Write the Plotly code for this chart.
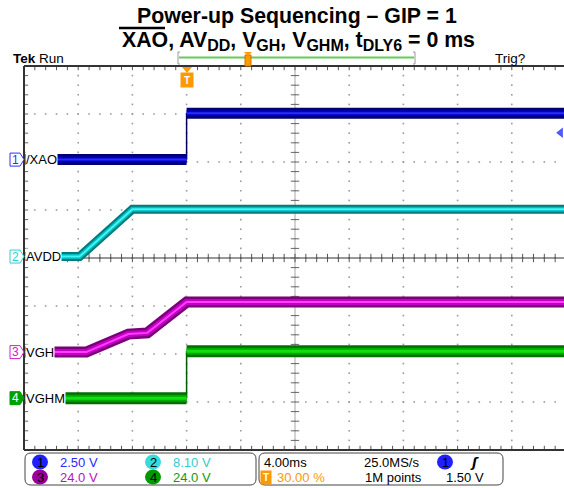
import plotly.graph_objects as go

# --- scope settings / data ---
time_per_div = 4.0          # ms/div
trigger_pct = 30.0          # % of record
sample_rate = "25.0MS/s"
record_len = "1M points"
trig_level = 1.50           # V on ch1

channel_names = ["/XAO", "AVDD", "VGH", "VGHM"]
volts_per_div = [2.50, 8.10, 24.0, 24.0]
offsets_div = [2.05, 0.03, -1.96, -2.92]

# waveforms (time in ms relative to trigger, volts)
time_xao = [-12, 0, 0, 28]
volt_xao = [0.0, 0.0, 2.42, 2.42]
time_avdd = [-12, -7.9, -4.0, 28]
volt_avdd = [0.0, 0.0, 8.0, 8.0]
time_vgh = [-12, -7.4, -4.3, -2.9, 0, 28]
volt_vgh = [0.0, 0.0, 9.0, 9.6, 25.0, 25.0]
time_vghm = [-12, 0, 0, 28]
volt_vghm = [0.0, 0.0, 23.5, 23.5]

W, H = 564, 488
LEFT, TOP, BOTTOM = 24, 66, 450
PW, PH = W - LEFT, BOTTOM - TOP
DIV_PX = 54.2
X0 = -trigger_pct / 10 * time_per_div
X1 = X0 + PW / DIV_PX * time_per_div


def px(x):
    return (x - LEFT) / PW


def py(y):
    return (BOTTOM - y) / PH


# band colours: outer, middle, core
band_styles = [
    [("#00006e", 11), ("#0000c0", 6), ("#2b2bff", 2)],
    [("#007a7a", 9), ("#00bcbc", 5), ("#3ff5f5", 2)],
    [("#7a007a", 11), ("#c400c4", 6), ("#ff3cff", 2)],
    [("#006e00", 12), ("#00a800", 7), ("#10e010", 3)],
]
edge_colors = ["#00005a", "#006060", "#600060", "#005a00"]

fig = go.Figure()

# graticule dots
gx, gy = [], []
for i in range(11):
    for j in range(41):
        gx.append(X0 + time_per_div * i)
        gy.append(-4 + 0.2 * j)
for k in range(9):
    for j in range(51):
        gx.append(X0 + 0.8 * j)
        gy.append(-4 + k)
fig.add_trace(go.Scatter(x=gx, y=gy, mode="markers",
                         marker=dict(symbol="square", size=1.6, color="#9a9a9a")))

# centre lines
fig.add_trace(go.Scatter(x=[X0 + 5 * time_per_div] * 2, y=[-4, 4], mode="lines",
                         line=dict(color="#c4c4c4", width=1.5)))
fig.add_trace(go.Scatter(x=[X0, X1], y=[0, 0], mode="lines",
                         line=dict(color="#333333", width=1.2)))

# minor ticks on centre lines and borders
tx = [X0 + 0.8 * j for j in range(51)]
ty = [-4 + 0.2 * j for j in range(41)]
for yy in (0, 4, -4):
    fig.add_trace(go.Scatter(x=tx, y=[yy] * len(tx), mode="markers",
                             marker=dict(symbol="line-ns", size=6,
                                         line=dict(color="#555555", width=1))))
for xx in (X0, X0 + 5 * time_per_div):
    fig.add_trace(go.Scatter(x=[xx] * len(ty), y=ty, mode="markers",
                             marker=dict(symbol="line-ew", size=6,
                                         line=dict(color="#666666", width=1))))


def add_band(t, v, ch):
    y = [offsets_div[ch] + vi / volts_per_div[ch] for vi in v]
    segs = []
    cur_t, cur_y = [t[0]], [y[0]]
    for i in range(1, len(t)):
        if t[i] == t[i - 1]:
            segs.append((cur_t, cur_y))
            fig.add_trace(go.Scatter(x=[t[i - 1], t[i]], y=[y[i - 1], y[i]], mode="lines",
                                     line=dict(color=edge_colors[ch], width=1.5)))
            cur_t, cur_y = [t[i]], [y[i]]
        else:
            cur_t.append(t[i])
            cur_y.append(y[i])
    segs.append((cur_t, cur_y))
    for st, sy in segs:
        for color, width in band_styles[ch]:
            fig.add_trace(go.Scatter(x=st, y=sy, mode="lines",
                                     line=dict(color=color, width=width)))


add_band(time_avdd, volt_avdd, 1)
add_band(time_vgh, volt_vgh, 2)
add_band(time_vghm, volt_vghm, 3)
add_band(time_xao, volt_xao, 0)

# trigger level marker (right edge)
fig.add_trace(go.Scatter(x=[X1 - 0.25], y=[offsets_div[0] + trig_level / volts_per_div[0] - 0.04],
                         mode="markers", cliponaxis=False,
                         marker=dict(symbol="triangle-left", size=9, color="#4a5cff")))

shapes = []
annotations = []


def txt(x, y, text, size=13, color="black", family="Arial", xanchor="center",
        yanchor="middle", yref="paper", **kw):
    annotations.append(dict(xref="paper", yref=yref, x=x, y=y, text=text, showarrow=False,
                            xanchor=xanchor, yanchor=yanchor,
                            font=dict(family=family, size=size, color=color), **kw))


# borders
shapes.append(dict(type="line", xref="paper", yref="paper", x0=0, x1=1, y0=1, y1=1,
                   line=dict(color="#333333", width=2)))
shapes.append(dict(type="line", xref="paper", yref="paper", x0=0, x1=1, y0=0, y1=0,
                   line=dict(color="#333333", width=2)))
shapes.append(dict(type="line", xref="paper", yref="paper", x0=0, x1=0, y0=0, y1=1,
                   line=dict(color="#333333", width=2)))

# channel markers and labels
marker_cols = ["#3030ff", "#30d0d0", "#cc22cc", "#00a000"]
for ch, name in enumerate(channel_names):
    yc = 258 - offsets_div[ch] * 48
    path = (f"M {px(10)},{py(yc - 6.5)} L {px(20)},{py(yc - 6.5)} L {px(24)},{py(yc)} "
            f"L {px(20)},{py(yc + 6.5)} L {px(10)},{py(yc + 6.5)} Z")
    filled = ch == 3
    shapes.append(dict(type="path", xref="paper", yref="paper", path=path,
                       fillcolor=marker_cols[ch] if filled else "white",
                       line=dict(color=marker_cols[ch], width=1)))
    txt(px(15.5), py(yc), str(ch + 1), size=12, color="white" if filled else marker_cols[ch])
    txt(px(25), offsets_div[ch], name, size=13, xanchor="left", yref="y",
        bgcolor="white", borderpad=0)

# title
sub = '<sub><span style="font-size:16px">{}</span></sub>'
txt(px(297), py(16), "<b>Power-up Sequencing – GIP = 1</b>", size=21.3)
txt(px(298), py(41),
    "<b>XAO, AV" + sub.format("DD") + ", V" + sub.format("GH") + ", V" + sub.format("GHM")
    + ", t" + sub.format("DLY6") + " = 0 ms</b>", size=21.3)
shapes.append(dict(type="line", xref="paper", yref="paper", x0=px(119), x1=px(165),
                   y0=py(28), y1=py(28), line=dict(color="black", width=2.5)))

# header
txt(px(11), py(59), "<b>Tek</b> Run", size=13.5, xanchor="left")
txt(px(493), py(59), "Trig?", size=13.5, xanchor="left")

# record bar
shapes.append(dict(type="line", xref="paper", yref="paper", x0=px(179), x1=px(414),
                   y0=py(57.5), y1=py(57.5), line=dict(color="#66cc55", width=2)))
for xb, d in ((178, 2), (415, -2)):
    shapes.append(dict(type="path", xref="paper", yref="paper",
                       path=f"M {px(xb + d)},{py(52)} L {px(xb)},{py(52)} L {px(xb)},{py(64)} L {px(xb + d)},{py(64)}",
                       line=dict(color="#999999", width=1)))
shapes.append(dict(type="rect", xref="paper", yref="paper", x0=px(245), x1=px(251),
                   y0=py(55), y1=py(66), fillcolor="#ff9900", line=dict(color="#cc7700", width=1)))
shapes.append(dict(type="path", xref="paper", yref="paper",
                   path=f"M {px(244)},{py(52)} L {px(252)},{py(52)} L {px(248)},{py(56)} Z",
                   fillcolor="#ff9900", line=dict(width=0)))

# trigger position marker
shapes.append(dict(type="path", xref="paper", yref="paper",
                   path=f"M {px(182)},{py(67)} L {px(192)},{py(67)} L {px(187)},{py(73)} Z",
                   fillcolor="#ff9900", line=dict(width=0)))
txt(px(187), py(80.5), "<b>T</b>", size=10, color="white", bgcolor="#ff9900",
    borderpad=1, width=10, height=12)


# bottom panel
def rrect(x0, y0, x1, y1, r):
    return (f"M {px(x0 + r)},{py(y0)} L {px(x1 - r)},{py(y0)} Q {px(x1)},{py(y0)} {px(x1)},{py(y0 + r)} "
            f"L {px(x1)},{py(y1 - r)} Q {px(x1)},{py(y1)} {px(x1 - r)},{py(y1)} "
            f"L {px(x0 + r)},{py(y1)} Q {px(x0)},{py(y1)} {px(x0)},{py(y1 - r)} "
            f"L {px(x0)},{py(y0 + r)} Q {px(x0)},{py(y0)} {px(x0 + r)},{py(y0)} Z")


shapes.append(dict(type="path", xref="paper", yref="paper", path=rrect(25, 453, 256, 485, 6),
                   line=dict(color="#444444", width=1)))
shapes.append(dict(type="path", xref="paper", yref="paper", path=rrect(259, 453, 503, 485, 6),
                   line=dict(color="#444444", width=1)))

circle_fill = ["#1f1fff", "#33dddd", "#990099", "#009900"]
text_cols = ["#2a2aff", "#33cccc", "#bb11bb", "#119911"]
pos = [(40, 462), (153, 462), (40, 477), (153, 477)]
for ch in range(4):
    cx, cy = pos[ch]
    shapes.append(dict(type="circle", xref="paper", yref="paper", x0=px(cx - 8), x1=px(cx + 8),
                       y0=py(cy - 7.5), y1=py(cy + 7.5), fillcolor=circle_fill[ch], line=dict(width=0)))
    txt(px(cx), py(cy), str(ch + 1), size=13)
    unit = f"{volts_per_div[ch]:.2f} V" if volts_per_div[ch] < 10 else f"{volts_per_div[ch]:.1f} V"
    txt(px(cx + 18), py(cy), unit, color=text_cols[ch], xanchor="left")

shapes.append(dict(type="circle", xref="paper", yref="paper", x0=px(437), x1=px(453),
                   y0=py(454.5), y1=py(469.5), fillcolor="#1f1fff", line=dict(width=0)))
txt(px(445), py(462), "1", size=13)
txt(px(474), py(462), "<b><i>ʃ</i></b>", family="DejaVu Sans")
txt(px(262), py(462), f"{time_per_div:.2f}ms", xanchor="left")
txt(px(362), py(462), sample_rate, xanchor="left")
txt(px(266), py(477), "<b>T</b>", size=10, color="white", bgcolor="#ff9900",
    borderpad=0, width=10, height=13)
txt(px(275), py(477), f"{trigger_pct:.2f} %", color="#ff9900", xanchor="left")
txt(px(363), py(477), record_len, xanchor="left")
txt(px(444), py(477), f"{trig_level:.2f} V", xanchor="left")

fig.update_layout(
    width=W, height=H,
    margin=dict(l=LEFT, r=0, t=TOP, b=H - BOTTOM),
    paper_bgcolor="white", plot_bgcolor="white",
    showlegend=False,
    xaxis=dict(range=[X0, X1], visible=False),
    yaxis=dict(range=[-4, 4], visible=False),
    shapes=shapes, annotations=annotations,
)
fig.write_html("out.html", config={"displayModeBar": False},
               post_script="document.body.style.margin='0';")
